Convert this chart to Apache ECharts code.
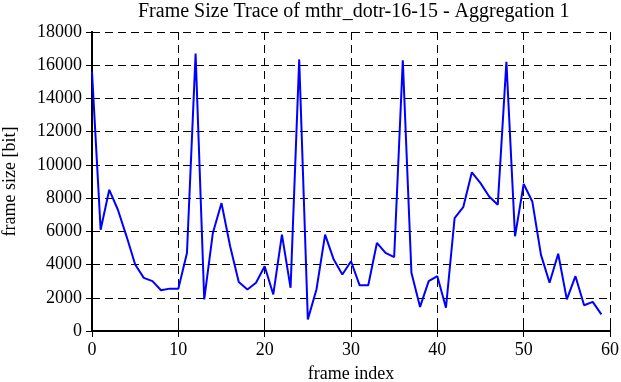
<!DOCTYPE html>
<html>
<head>
<meta charset="utf-8">
<script src="https://cdn.jsdelivr.net/npm/echarts@6/dist/echarts.min.js"></script>
<style>
  html, body { margin: 0; padding: 0; background: #fff; }
  #chart { width: 621px; height: 382px; }
</style>
</head>
<body>
<div id="chart"></div>
<script>
// frame sizes, one per frame index 0..59
const frameIndex = [];
for (let i = 0; i < 60; i++) frameIndex.push(i);
const frameSize = [
  15600, 6100, 8500, 7300, 5700, 4000, 3200, 3000, 2450, 2550,
  2550, 4700, 16700, 1900, 5900, 7700, 5100, 2950, 2500, 2900,
  3900, 2200, 5800, 2600, 16350, 700, 2500, 5800, 4300, 3400,
  4200, 2750, 2750, 5300, 4700, 4450, 16300, 3500, 1450, 3000,
  3300, 1400, 6800, 7450, 9550, 8900, 8100, 7600, 16200, 5700,
  8850, 7800, 4600, 2900, 4650, 1900, 3300, 1550, 1750, 1000
];

const font = 'Liberation Serif';
const chart = echarts.init(document.getElementById('chart'));

// mirrored tick axes (gnuplot style), no labels
const mirrorTick = { show: true, inside: true, length: 6, lineStyle: { color: '#000', width: 1 } };
const gridDash = { color: '#000', type: [8, 5], width: 1 };

chart.setOption({
  animation: false,
  title: {
    text: 'Frame Size Trace of mthr_dotr-16-15 - Aggregation 1',
    left: 133,
    top: -3,
    textStyle: { fontFamily: font, fontSize: 20, fontWeight: 'normal', color: '#000' }
  },
  grid: { left: 92, right: 11, top: 32, bottom: 51, outerBoundsMode: 'none' },
  xAxis: [
    {
      type: 'value',
      min: 0,
      max: 60,
      interval: 10,
      name: 'frame index',
      nameLocation: 'middle',
      nameGap: 34,
      nameTextStyle: { fontFamily: font, fontSize: 18, color: '#000' },
      axisLine: { lineStyle: { color: '#000', width: 2 } },
      axisTick: { inside: true, length: 6, lineStyle: { color: '#000', width: 1 } },
      axisLabel: { fontFamily: font, fontSize: 18, color: '#000', margin: 10 },
      splitLine: { show: true, lineStyle: gridDash }
    },
    {
      type: 'value',
      position: 'top',
      min: 0,
      max: 60,
      interval: 10,
      axisLine: { lineStyle: { color: '#000', width: 2 } },
      axisTick: mirrorTick,
      axisLabel: { show: false },
      splitLine: { show: false }
    }
  ],
  yAxis: [
    {
      type: 'value',
      min: 0,
      max: 18000,
      interval: 2000,
      name: 'frame size [bit]',
      nameLocation: 'middle',
      nameGap: 73,
      nameTextStyle: { fontFamily: font, fontSize: 18, color: '#000' },
      axisLine: { show: true, lineStyle: { color: '#000', width: 2 } },
      axisTick: { show: true, inside: true, length: 6, lineStyle: { color: '#000', width: 1 } },
      axisLabel: { fontFamily: font, fontSize: 18, color: '#000', margin: 10, formatter: v => String(v) },
      splitLine: { show: true, lineStyle: gridDash }
    },
    {
      type: 'value',
      position: 'right',
      min: 0,
      max: 18000,
      interval: 2000,
      axisLine: { show: true, lineStyle: { color: '#000', width: 2 } },
      axisTick: mirrorTick,
      axisLabel: { show: false },
      splitLine: { show: false }
    }
  ],
  series: [
    {
      type: 'line',
      data: frameIndex.map((x, i) => [x, frameSize[i]]),
      showSymbol: false,
      lineStyle: { color: '#0000ff', width: 2 },
      itemStyle: { color: '#0000ff' }
    }
  ]
});
</script>
</body>
</html>
